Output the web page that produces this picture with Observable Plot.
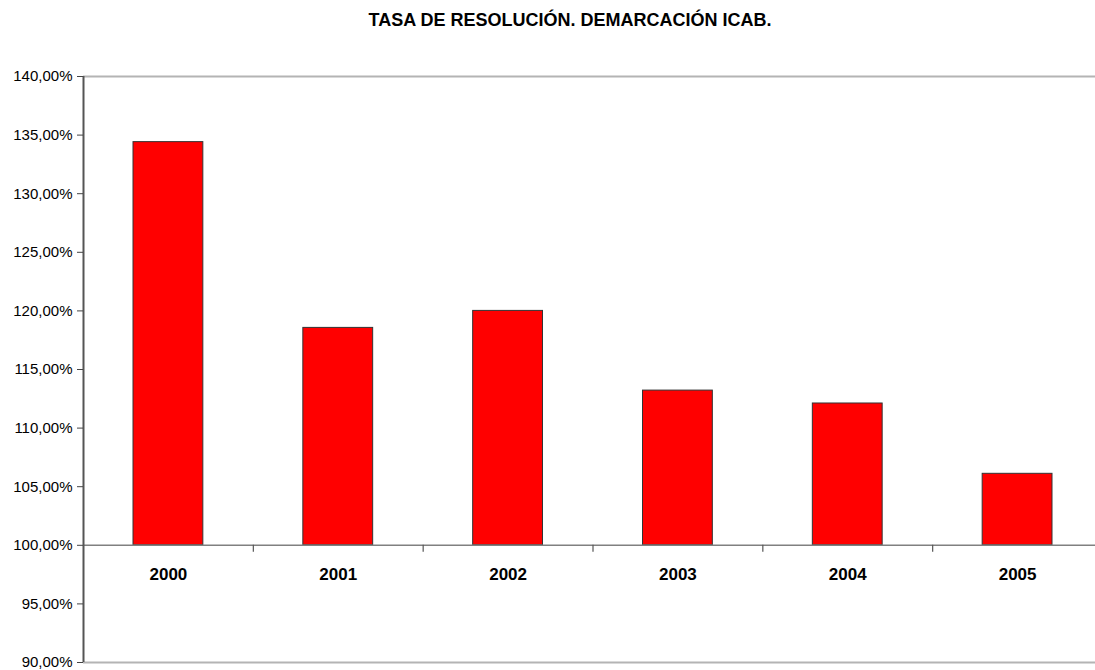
<!DOCTYPE html>
<html>
<head>
<meta charset="utf-8">
<script src="https://cdn.jsdelivr.net/npm/d3@7"></script>
<script src="https://cdn.jsdelivr.net/npm/@observablehq/plot@0.6"></script>
<style>
  html, body { margin: 0; padding: 0; background: #fff; }
  body { font-family: "Liberation Sans", Arial, sans-serif; }
  #title { position: relative; height: 40px; line-height: 40px; }
  #title span { position: absolute; left: 570px; transform: translateX(-50%); white-space: nowrap;
    font-weight: bold; font-size: 18px; color: #000; }
  #chart svg { display: block; }
</style>
</head>
<body>
<div id="title"><span>TASA DE RESOLUCIÓN. DEMARCACIÓN ICAB.</span></div>
<div id="chart"></div>
<script>
const years = ["2000", "2001", "2002", "2003", "2004", "2005"];
const rates = [134.4, 118.55, 120.0, 113.2, 112.1, 106.1];
const yTicks = [90, 95, 100, 105, 110, 115, 120, 125, 130, 135, 140];
const baseline = 100;

const data = years.map((year, i) => ({year, i, rate: rates[i]}));
const boundaries = d3.range(1, years.length);

const chart = Plot.plot({
  width: 1095,
  height: 630,
  marginLeft: 83,
  marginRight: -7,
  marginTop: 36,
  marginBottom: 8,
  style: {fontFamily: "'Liberation Sans', Arial, sans-serif"},
  x: {domain: [0, years.length], axis: null},
  y: {domain: [90, 140], axis: null},
  marks: [
    Plot.ruleY([140, 90], {x1: 0, x2: years.length, stroke: "#b4b4b4", strokeWidth: 2}),
    Plot.rectY(data, {
      x1: "i", x2: d => d.i + 1, y1: baseline, y2: "rate",
      insetLeft: 50, insetRight: 50,
      fill: "#ff0000", stroke: "#333", strokeWidth: 1
    }),
    Plot.ruleY([baseline], {x1: 0, x2: years.length, stroke: "#808080", strokeWidth: 1.5}),
    Plot.ruleX([0], {y1: 90, y2: 140, stroke: "#555", strokeWidth: 2}),
    Plot.axisY(yTicks, {
      label: null,
      tickSize: 6, tickPadding: 5, stroke: "#444",
      fontSize: 15, fill: "#000",
      tickFormat: d => d.toFixed(2).replace(".", ",") + "%"
    }),
    Plot.ruleX(boundaries, {y1: baseline, y2: baseline, insetBottom: -7, stroke: "#555", strokeWidth: 1.2}),
    Plot.text(data, {
      x: d => d.i + 0.5, y: baseline, dy: 29, text: "year",
      fontWeight: "bold", fontSize: 17, fill: "#000"
    })
  ]
});
document.getElementById("chart").appendChild(chart);
</script>
</body>
</html>
